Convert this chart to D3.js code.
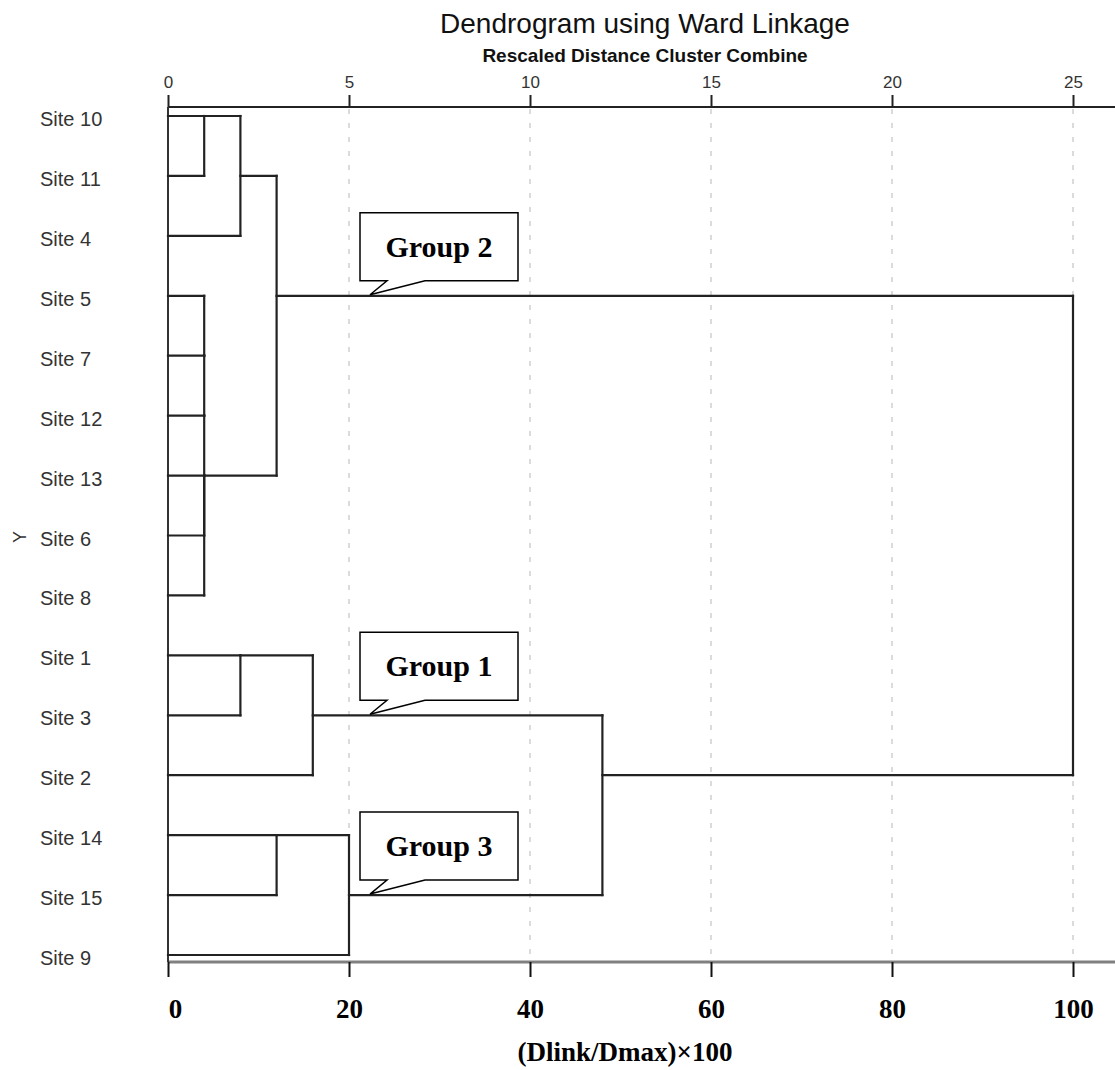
<!DOCTYPE html>
<html>
<head>
<meta charset="utf-8">
<script src="https://cdn.jsdelivr.net/npm/d3@7"></script>
<style>
  body { margin: 0; background: #fff; }
  svg { display: block; }
</style>
</head>
<body>
<div id="chart"></div>
<script>
// Leaf order, top to bottom
const sites = ["Site 10", "Site 11", "Site 4", "Site 5", "Site 7", "Site 12", "Site 13",
    "Site 6", "Site 8", "Site 1", "Site 3", "Site 2", "Site 14", "Site 15", "Site 9"];

// Merges: [left node, right node, rescaled distance, row the joined line leaves from]
// nodes 0..14 are leaves, merge k becomes node 15 + k
const merges = [
    [0, 1, 1, 0],
    [15, 2, 2, 1],
    [3, 4, 1, 4],
    [17, 5, 1, 5],
    [18, 6, 1, 6],
    [19, 7, 1, 6],
    [20, 8, 1, 6],
    [16, 21, 3, 3],
    [9, 10, 2, 9],
    [23, 11, 4, 10],
    [12, 13, 3, 12],
    [25, 14, 5, 13],
    [24, 26, 12, 11],
    [22, 27, 25, 11]
];

const topTicks = [0, 5, 10, 15, 20, 25];
const bottomTicks = [0, 20, 40, 60, 80, 100];

// Callouts: [label, row of the line they point at]
const callouts = [["Group 2", 3], ["Group 1", 10], ["Group 3", 13]];

const W = 1115, H = 1070;
const svg = d3.select("#chart").append("svg").attr("width", W).attr("height", H);

const x = d3.scaleLinear().domain([0, 25]).range([168, 1073]);
const xb = d3.scaleLinear().domain([0, 100]).range([168, 1073]);
const y = d3.scalePoint().domain(d3.range(sites.length)).range([116, 955]);

const topY = 107, botY = 962;

// titles
svg.append("text")
    .attr("x", 645).attr("y", 33)
    .attr("text-anchor", "middle")
    .style("font-family", "Liberation Sans, Arial, sans-serif")
    .style("font-size", "28px")
    .attr("fill", "#111")
    .text("Dendrogram using Ward Linkage");

svg.append("text")
    .attr("x", 645).attr("y", 62)
    .attr("text-anchor", "middle")
    .style("font-family", "Liberation Sans, Arial, sans-serif")
    .style("font-size", "19px")
    .style("font-weight", "bold")
    .attr("fill", "#111")
    .text("Rescaled Distance Cluster Combine");

// dashed grid
svg.append("g")
    .selectAll("line")
    .data(topTicks.slice(1))
    .enter().append("line")
        .attr("x1", d => x(d)).attr("x2", d => x(d))
        .attr("y1", topY + 2).attr("y2", botY - 2)
        .attr("stroke", "#d0d0d0")
        .attr("stroke-width", 1.5)
        .attr("stroke-dasharray", "5,9");

// top axis
const gTop = svg.append("g")
    .attr("transform", "translate(0," + topY + ")")
    .call(d3.axisTop(x).tickValues(topTicks).tickSize(12).tickPadding(7));
gTop.select(".domain").remove();
gTop.selectAll(".tick line").attr("stroke", "#222").attr("stroke-width", 2);
gTop.selectAll(".tick text")
    .style("font-family", "Liberation Sans, Arial, sans-serif")
    .style("font-size", "17px")
    .attr("fill", "#333");
svg.append("line")
    .attr("x1", x(0)).attr("x2", W)
    .attr("y1", topY).attr("y2", topY)
    .attr("stroke", "#222").attr("stroke-width", 2);

// bottom axis
svg.append("line")
    .attr("x1", x(0)).attr("x2", W)
    .attr("y1", botY).attr("y2", botY)
    .attr("stroke", "#808080").attr("stroke-width", 3);
const gBot = svg.append("g")
    .attr("transform", "translate(0," + botY + ")")
    .call(d3.axisBottom(xb).tickValues(bottomTicks).tickSize(15).tickPadding(22));
gBot.select(".domain").remove();
gBot.selectAll(".tick line").attr("stroke", "#111").attr("stroke-width", 2);
gBot.selectAll(".tick text")
    .style("font-family", "Liberation Serif, 'Times New Roman', serif")
    .style("font-size", "27px")
    .style("font-weight", "bold")
    .attr("fill", "#000")
    .attr("dx", d => d === 0 ? 7 : 0);

svg.append("text")
    .attr("x", 625).attr("y", 1061)
    .attr("text-anchor", "middle")
    .style("font-family", "Liberation Serif, 'Times New Roman', serif")
    .style("font-size", "27px")
    .style("font-weight", "bold")
    .text("(Dlink/Dmax)\u00d7100");

// left vertical line
svg.append("line")
    .attr("x1", x(0)).attr("x2", x(0))
    .attr("y1", topY).attr("y2", botY)
    .attr("stroke", "#333").attr("stroke-width", 2);

// site labels
svg.append("g")
    .selectAll("text")
    .data(sites)
    .enter().append("text")
        .attr("x", 40)
        .attr("y", (d, i) => y(i) + 10)
        .style("font-family", "Liberation Sans, Arial, sans-serif")
        .style("font-size", "20px")
        .attr("fill", "#333")
        .text(d => d);

svg.append("text")
    .attr("transform", "translate(26,537) rotate(-90)")
    .attr("text-anchor", "middle")
    .style("font-family", "Liberation Sans, Arial, sans-serif")
    .style("font-size", "18px")
    .attr("fill", "#333")
    .text("Y");

// tree
const nodeH = sites.map(() => 0);
const nodeRow = sites.map((d, i) => i);
const segs = [];
merges.forEach(m => {
    const [a, b, h, row] = m;
    [a, b].forEach(c => {
        segs.push([x(nodeH[c]), y(nodeRow[c]), x(h), y(nodeRow[c])]);
    });
    const y1 = Math.min(y(nodeRow[a]), y(nodeRow[b]));
    const y2 = Math.max(y(nodeRow[a]), y(nodeRow[b]));
    segs.push([x(h), y1, x(h), y2]);
    nodeH.push(h);
    nodeRow.push(row);
});

svg.append("g")
    .attr("class", "links")
    .selectAll("line")
    .data(segs)
    .enter().append("line")
        .attr("x1", d => d[0]).attr("y1", d => d[1])
        .attr("x2", d => d[2]).attr("y2", d => d[3])
        .attr("stroke", "#222")
        .attr("stroke-width", 2.2)
        .attr("stroke-linecap", "square");

// callouts
const bx0 = 360, bx1 = 518, bh = 68;
const gc = svg.append("g");
callouts.forEach(c => {
    const [label, row] = c;
    const tipY = y(row) - 1;
    const bot = tipY - 14, top = bot - bh;
    const p = d3.path();
    p.moveTo(bx0, top);
    p.lineTo(bx1, top);
    p.lineTo(bx1, bot);
    p.lineTo(425, bot);
    p.lineTo(370, tipY);
    p.lineTo(387, bot);
    p.lineTo(bx0, bot);
    p.closePath();
    gc.append("path")
        .attr("d", p.toString())
        .attr("fill", "#fff")
        .attr("stroke", "#000")
        .attr("stroke-width", 1.5);
    gc.append("text")
        .attr("x", (bx0 + bx1) / 2)
        .attr("y", top + bh / 2 + 10)
        .attr("text-anchor", "middle")
        .style("font-family", "Liberation Serif, 'Times New Roman', serif")
        .style("font-size", "30px")
        .style("font-weight", "bold")
        .text(label);
});
</script>
</body>
</html>
